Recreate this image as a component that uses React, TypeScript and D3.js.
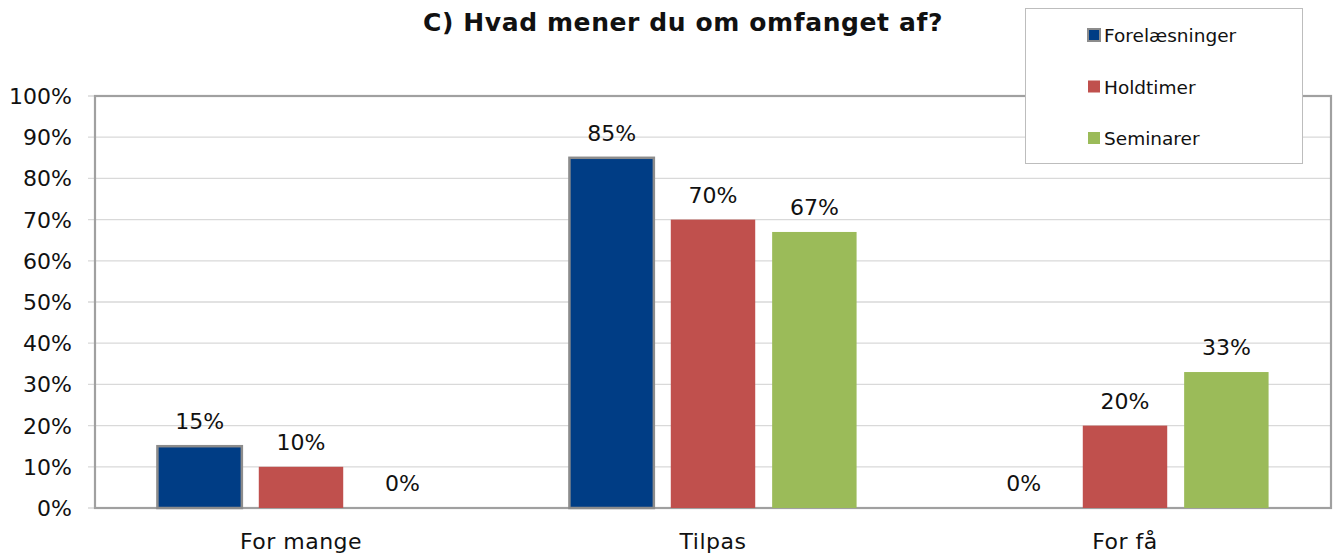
import React from 'react';
import * as d3 from 'd3';

const categories = ['For mange', 'Tilpas', 'For få'];
const seriesNames = ['Forelæsninger', 'Holdtimer', 'Seminarer'];
const forelaesninger = [15, 85, 0];
const holdtimer = [10, 70, 20];
const seminarer = [0, 67, 33];
const yTicks = [0, 10, 20, 30, 40, 50, 60, 70, 80, 90, 100];

const colors = ['#003D85', '#C0504D', '#9BBB59'];
const font = '"DejaVu Sans", sans-serif';

const App = () => {
	const width = 1337;
	const height = 555;
	const left = 95, right = 1331, top = 96, bottom = 508;
	const values = [forelaesninger, holdtimer, seminarer];

	const x0 = d3.scaleBand()
		.domain(categories)
		.range([left, right])
		.paddingInner(0.303)
		.paddingOuter(0.1515);
	const x1 = d3.scaleBand()
		.domain(seriesNames)
		.range([0, x0.bandwidth()])
		.paddingInner(0.167)
		.paddingOuter(0);
	const y = d3.scaleLinear().domain([0, 100]).range([bottom, top]);

	return (
		<svg width={width} height={height} style={{ display: 'block', position: 'absolute', left: 0, top: 0 }}>
			<rect x={0} y={0} width={width} height={height} fill='white' />
			<text x={683} y={31} textAnchor='middle' fontFamily={font} fontWeight='bold' fontSize={25} letterSpacing={0.6} fill='#111'>
				C) Hvad mener du om omfanget af?
			</text>

			{/* gridlines and y ticks */}
			{yTicks.map(t => (
				<g key={t}>
					<line x1={88} x2={right} y1={y(t)} y2={y(t)} stroke='#d9d9d9' strokeWidth={1.3} />
					<text x={72} y={y(t) + 8} textAnchor='end' fontFamily={font} fontSize={22} fill='#111'>
						{t + '%'}
					</text>
				</g>
			))}

			{/* plot border */}
			<rect x={left} y={top} width={right - left} height={bottom - top} fill='none' stroke='#a0a0a0' strokeWidth={2.2} />

			{categories.map((c, ci) => (
				<g key={c} transform={`translate(${x0(c)},0)`}>
					{seriesNames.map((s, si) => {
						const v = values[si][ci];
						const bx = x1(s) as number;
						return (
							<g key={s}>
								{v > 0 && (
									<rect
										x={bx}
										y={y(v)}
										width={x1.bandwidth()}
										height={bottom - y(v)}
										fill={colors[si]}
										stroke={si === 0 ? '#8c8c8c' : 'none'}
										strokeWidth={si === 0 ? 2.5 : 0}
									/>
								)}
								<text
									x={bx + x1.bandwidth() / 2}
									y={y(v) - 17}
									textAnchor='middle'
									fontFamily={font}
									fontSize={22}
									fill='#111'
								>
									{v + '%'}
								</text>
							</g>
						);
					})}
				</g>
			))}

			{categories.map(c => (
				<text key={c} x={(x0(c) as number) + x0.bandwidth() / 2} y={549} textAnchor='middle' fontFamily={font} fontSize={22} letterSpacing={0.5} fill='#111'>
					{c}
				</text>
			))}

			{/* legend */}
			<rect x={1025.5} y={8.5} width={277} height={155} fill='white' stroke='#bdbdbd' strokeWidth={1} />
			{seriesNames.map((s, i) => (
				<g key={s} transform={`translate(1088,${35 + i * 51.5})`}>
					<rect
						x={0}
						y={-6}
						width={12}
						height={12}
						fill={colors[i]}
						stroke={i === 0 ? '#8c8c8c' : 'none'}
						strokeWidth={i === 0 ? 2 : 0}
					/>
					<text x={16} y={7} fontFamily={font} fontSize={18.5} fill='#111'>{s}</text>
				</g>
			))}
		</svg>
	);
};

export default App;
